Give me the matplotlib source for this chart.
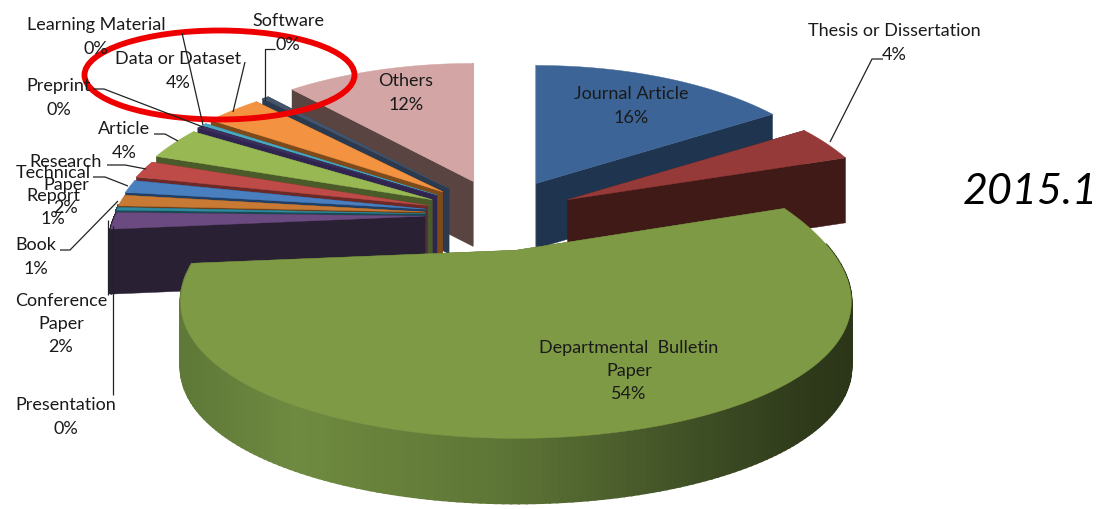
import matplotlib
matplotlib.use('Agg')
import matplotlib.pyplot as plt
from matplotlib.patches import Ellipse, Polygon
from matplotlib.colors import to_rgb
import numpy as np

plt.rcParams['font.family'] = ['Lato', 'DejaVu Sans']

# pie data, clockwise from 12 o'clock
categories = ['Journal Article', 'Thesis or Dissertation', 'Departmental  Bulletin\nPaper',
              'Conference\nPaper', 'Presentation', 'Book', 'Technical\nReport',
              'Research\nPaper', 'Article', 'Preprint', 'Learning Material',
              'Data or Dataset', 'Software', 'Others']
values = [16.0, 4.0, 53.6, 1.8, 0.3, 1.2, 1.4, 1.9, 3.6, 0.3, 0.3, 3.5, 0.4, 11.7]

top_colors = ['#3c6496', '#953a38', '#7f9a45', '#6a4a80', '#2e8ba0', '#c87a35', '#4a7fbf',
              '#bf4b48', '#97b853', '#3d2f5c', '#4aa8c0', '#f39240', '#44546a', '#d4a5a5']
wall_colors = ['#1f344f', '#3f1a17', '#4a5a28', '#2a2033', '#1a4a55', '#6b3f18', '#1f3f66',
               '#6b2a28', '#4a5a28', '#2f2550', '#1f5a6b', '#7f4a1a', '#2c3a4f', '#5a4442']

# back to front
draw_order = [13, 12, 11, 10, 9, 8, 7, 6, 5, 4, 3, 0, 1, 2]

# label centres in pixels
label_pos = [(631, 106), (894, 43), (629, 371), (61, 324), (66, 417), (36, 257), (53, 196),
             (66, 185), (124, 141), (59, 98), (96, 37), (178, 71), (288, 33), (406, 93)]

# leader lines in pixels
leaders = [[(883, 59), (872, 59), (830, 142)],
           [(108, 295), (108, 220)],
           [(113, 395), (113, 226)],
           [(60, 250), (70, 250), (118, 201)],
           [(93, 177), (105, 177), (128, 186)],
           [(107, 165), (125, 165), (146, 169)],
           [(154, 134), (165, 134), (178, 141)],
           [(93, 89), (104, 89), (203, 127)],
           [(182, 33), (203, 125)],
           [(245, 62), (233, 112)],
           [(275, 49), (265, 49), (265, 100)]]

# shading of the round front wall of the big slice
grad_x = [190, 300, 500, 650, 800, 850]
grad_colors = ['#5f7a38', '#6f8a40', '#5e7636', '#47592a', '#2f3b1b', '#2b3618']

# pie geometry, pixels
BASE_X, BASE_Y = 500, 215
EXPLODE_X, EXPLODE_Y = 75, 36
RX, RY = 310, 145
BACK_X, BACK_Y = 0.2, 0.229
DEPTH = 65


def project(theta, r, cx, cy, rx=RX, back=BACK_X, curve=0.0):
    x = r * np.sin(theta)
    y = r * np.cos(theta)
    w = 1 + back * y + curve * y * y
    return cx + rx * x / w, cy - RY * y / (1 + BACK_Y * y)


def grad_color(x):
    rgb = np.array([to_rgb(c) for c in grad_colors])
    return [np.interp(x, grad_x, rgb[:, k]) for k in range(3)]


fig = plt.figure(figsize=(10.99, 5.09), dpi=100)
ax = fig.add_axes([0, 0, 1, 1])
ax.set_xlim(0, 1099)
ax.set_ylim(509, 0)
ax.axis('off')

edges = np.concatenate([[0], np.cumsum(values)]) / np.sum(values) * 2 * np.pi

for i in draw_order:
    start, end = edges[i], edges[i + 1]
    mid = (start + end) / 2
    cx = BASE_X + EXPLODE_X * np.sin(mid)
    cy = BASE_Y - EXPLODE_Y * np.cos(mid)
    opts = {}
    if i == 2:
        # the big slice comes out wider than the others
        cx += 1
        opts = dict(rx=315, back=0.36, curve=0.05)

    th = np.linspace(start, end, 200)
    ox, oy = project(th, 1.0, cx, cy, **opts)

    # flat walls, the one further back first
    for a in sorted([start, end], key=lambda t: -np.cos(t)):
        ex, ey = project(np.array(a), 1.0, cx, cy, **opts)
        quad = [(cx, cy), (ex, ey), (ex, ey + DEPTH), (cx, cy + DEPTH)]
        ax.add_patch(Polygon(quad, closed=True, fc=wall_colors[i], ec=wall_colors[i], lw=0.3))

    # round wall, only where it faces us
    for k in range(len(th) - 1):
        if np.cos(th[k]) < 0.05:
            c = grad_color(ox[k]) if i == 2 else wall_colors[i]
            quad = [(ox[k], oy[k]), (ox[k + 1], oy[k + 1]),
                    (ox[k + 1], oy[k + 1] + DEPTH), (ox[k], oy[k] + DEPTH)]
            ax.add_patch(Polygon(quad, closed=True, fc=c, ec=c, lw=1.5))

    top = np.column_stack([np.r_[cx, ox], np.r_[cy, oy]])
    ax.add_patch(Polygon(top, closed=True, fc=top_colors[i], ec=top_colors[i], lw=0.3))

for line in leaders:
    xs, ys = zip(*line)
    ax.plot(xs, ys, color='#222222', lw=0.9, solid_capstyle='butt')

for name, val, (lx, ly) in zip(categories, values, label_pos):
    ax.text(lx, ly, '%s\n%d%%' % (name, round(val)), ha='center', va='center',
            fontsize=13, color='#1a1a1a', linespacing=1.56)

ax.add_patch(Ellipse((219.5, 75), 270, 89, fc='none', ec='#ee0000', lw=4.2))

ax.text(1098, 192, '2015.1', ha='right', va='center', fontsize=31, style='italic', color='black')

fig.savefig('out.png', dpi=100)
